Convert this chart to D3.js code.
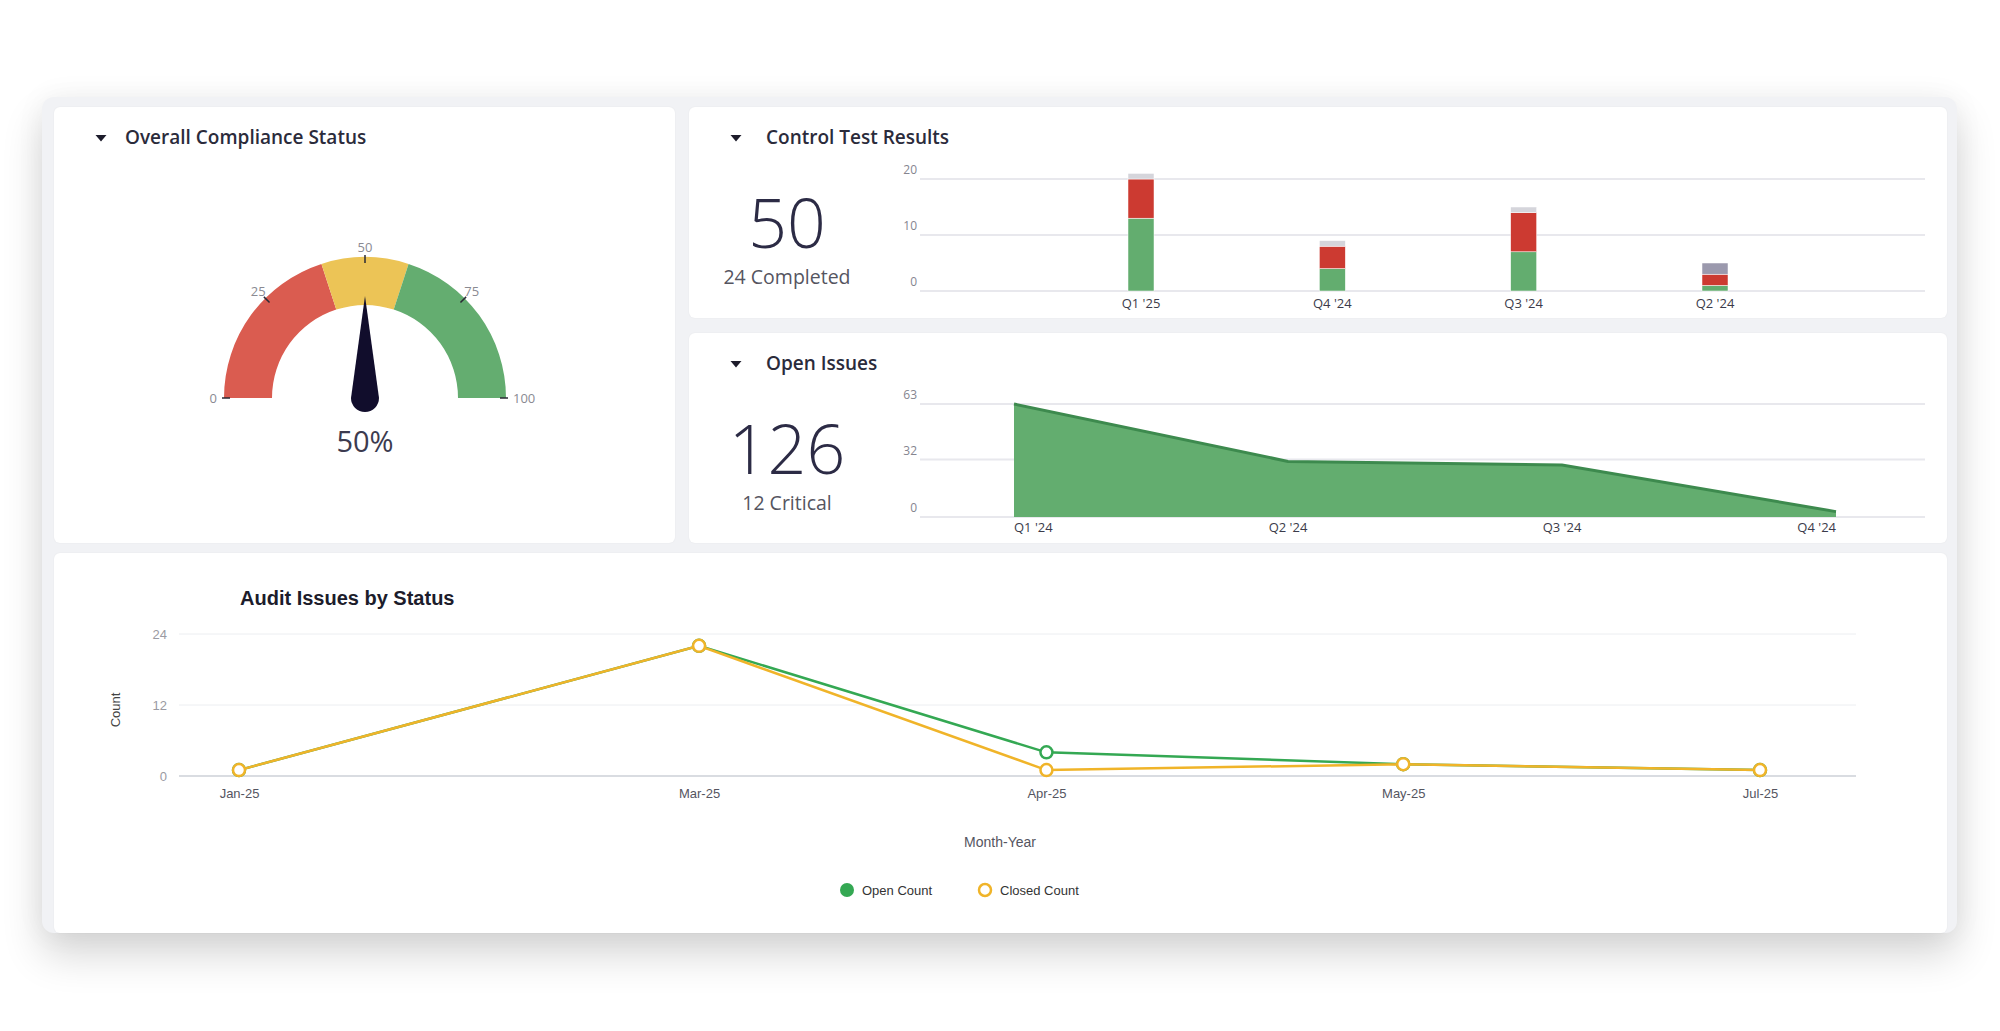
<!DOCTYPE html>
<html>
<head>
<meta charset="utf-8">
<script src="https://cdn.jsdelivr.net/npm/d3@7"></script>
<style>
    html, body { margin: 0; padding: 0; background: #fff; }
    body { width: 2000px; height: 1031px; position: relative; overflow: hidden; font-family: "Open Sans", sans-serif; }
    .frame {
        position: absolute; left: 42px; top: 97px; width: 1915px; height: 836px;
        background: #f1f2f5; border-radius: 12px;
        box-shadow: 0 22px 40px rgba(0,0,0,0.16), 0 0 30px rgba(0,0,0,0.05);
    }
    .panel { position: absolute; background: #fff; border-radius: 6px; box-shadow: 0 0 2px rgba(0,0,0,0.06); }
    .panel svg { display: block; }
</style>
</head>
<body>
<div class="frame"></div>
<div class="panel" id="gauge" style="left:54px;top:107px;width:621px;height:436px"></div>
<div class="panel" id="tests" style="left:689px;top:107px;width:1258px;height:211px"></div>
<div class="panel" id="issues" style="left:689px;top:333px;width:1258px;height:210px"></div>
<div class="panel" id="audit" style="left:54px;top:553px;width:1893px;height:380px"></div>
<script>
// gauge
const gaugeValue = 50;
const gaugeBreaks = [0, 40, 60, 100];
const gaugeColors = ['#da5c50', '#ecc456', '#64ad70'];
const gaugeTicks = [0, 25, 50, 75, 100];

// control test results
const testTotal = 50;
const testCompleted = 24;
const testQuarters = ["Q1 '25", "Q4 '24", "Q3 '24", "Q2 '24"];
const testPassed = [13, 4, 7, 1];
const testFailed = [7, 4, 7, 2];
const testBlocked = [0, 0, 0, 2];
const testNotRun = [1, 1, 1, 0];
const testTicks = [0, 10, 20];

// open issues
const issueTotal = 126;
const issueCritical = 12;
const issueQuarters = ["Q1 '24", "Q2 '24", "Q3 '24", "Q4 '24"];
const issueCounts = [63, 31, 29, 3];
const issueTicks = [0, 32, 63];

// audit issues by status
const auditLabels = ['Jan-25', 'Mar-25', 'Apr-25', 'May-25', 'Jul-25'];
const auditDates = ['2025-01-20', '2025-03-10', '2025-04-16', '2025-05-24', '2025-07-01'];
const openCount = [1, 22, 4, 2, 1];
const closedCount = [1, 22, 1, 2, 1];
const auditTicks = [0, 12, 24];

function panelSvg(id) {
    const el = document.getElementById(id);
    return d3.select(el).append('svg')
        .attr('width', el.clientWidth)
        .attr('height', el.clientHeight);
}

function header(svg, title, x) {
    svg.append('path')
        .attr('d', 'M-5.5,-3 L5.5,-3 L0,3.5 Z')
        .attr('transform', 'translate(47,31)')
        .attr('fill', '#1d1c2b');
    svg.append('text')
        .attr('x', x)
        .attr('y', 37)
        .attr('font-size', 19)
        .attr('font-weight', 600)
        .attr('fill', '#2b2b3b')
        .text(title);
}

// ---------- Gauge ----------
{
    const svg = panelSvg('gauge');
    header(svg, 'Overall Compliance Status', 71);

    const g = svg.append('g').attr('transform', 'translate(311,291)');
    const angle = d3.scaleLinear().domain([0, 100]).range([-Math.PI / 2, Math.PI / 2]);
    const arc = d3.arc().innerRadius(93).outerRadius(141);

    g.selectAll('path.band')
        .data(d3.pairs(gaugeBreaks))
        .join('path')
        .attr('class', 'band')
        .attr('fill', (d, i) => gaugeColors[i])
        .attr('d', d => arc({ startAngle: angle(d[0]), endAngle: angle(d[1]) }));

    g.selectAll('line.tick')
        .data(gaugeTicks)
        .join('line')
        .attr('x1', d => Math.sin(angle(d)) * 135)
        .attr('y1', d => -Math.cos(angle(d)) * 135)
        .attr('x2', d => Math.sin(angle(d)) * 143)
        .attr('y2', d => -Math.cos(angle(d)) * 143)
        .attr('stroke', '#2a2a35')
        .attr('stroke-width', 1.5);

    // labels sit outside the arc; the flat ends are anchored away from it
    const anchor = d => {
        const s = Math.sin(angle(d));
        return s < -0.9 ? 'end' : s > 0.9 ? 'start' : 'middle';
    };
    g.selectAll('text.tick')
        .data(gaugeTicks)
        .join('text')
        .attr('x', d => Math.sin(angle(d)) * (anchor(d) === 'middle' ? 151 : 148))
        .attr('y', d => -Math.cos(angle(d)) * 151)
        .attr('dy', '0.35em')
        .attr('text-anchor', anchor)
        .attr('font-size', 13)
        .attr('fill', '#8a8a92')
        .text(d => d);

    // needle
    g.append('path')
        .attr('d', 'M-14,0 L0,-102 L14,0 A14,14 0 0,1 -14,0 Z')
        .attr('transform', `rotate(${angle(gaugeValue) * 180 / Math.PI})`)
        .attr('fill', '#110d2c');

    svg.append('text')
        .attr('x', 311)
        .attr('y', 345)
        .attr('text-anchor', 'middle')
        .attr('font-size', 29)
        .attr('fill', '#3c3b4f')
        .text(`${gaugeValue}%`);
}

function kpi(svg, big, small) {
    svg.append('text')
        .attr('x', 98).attr('y', 141)
        .attr('text-anchor', 'middle')
        .attr('font-size', 68)
        .attr('font-weight', 300)
        .attr('fill', '#2c2b45')
        .text(big);
    svg.append('text')
        .attr('x', 98).attr('y', 177)
        .attr('text-anchor', 'middle')
        .attr('font-size', 19.5)
        .attr('fill', '#55555f')
        .text(small);
}

function grid(svg, y, ticks) {
    svg.append('g')
        .selectAll('line')
        .data(ticks)
        .join('line')
        .attr('x1', 231).attr('x2', 1236)
        .attr('y1', d => y(d)).attr('y2', d => y(d))
        .attr('stroke', '#e8e8ed')
        .attr('stroke-width', 2);
    svg.append('g')
        .selectAll('text')
        .data(ticks)
        .join('text')
        .attr('x', 228)
        .attr('y', d => y(d) - 5)
        .attr('text-anchor', 'end')
        .attr('font-size', 12)
        .attr('fill', '#85858f')
        .text(d => d);
}

// ---------- Control Test Results ----------
{
    const svg = panelSvg('tests');
    header(svg, 'Control Test Results', 77);
    kpi(svg, testTotal, `${testCompleted} Completed`);

    const y = d3.scaleLinear().domain([0, 20]).range([184, 72]);
    const x = d3.scalePoint().domain(testQuarters).range([452, 1026]);
    grid(svg, y, testTicks);

    const rows = testQuarters.map((q, i) => ({
        q, passed: testPassed[i], failed: testFailed[i], blocked: testBlocked[i], notRun: testNotRun[i]
    }));
    const keys = ['passed', 'failed', 'blocked', 'notRun'];
    const color = d3.scaleOrdinal().domain(keys).range(['#63ad6f', '#cc3a31', '#9b99ad', '#d5d5db']);
    const series = d3.stack().keys(keys)(rows);

    svg.append('g')
        .selectAll('g')
        .data(series)
        .join('g')
        .attr('fill', d => color(d.key))
        .selectAll('rect')
        .data(d => d)
        .join('rect')
        .attr('x', d => x(d.data.q) - 13)
        .attr('width', 26)
        .attr('y', d => y(d[1]))
        .attr('height', d => y(d[0]) - y(d[1]))
        .attr('stroke', '#fff')
        .attr('stroke-width', 0.5);

    svg.append('g')
        .selectAll('text')
        .data(testQuarters)
        .join('text')
        .attr('x', d => x(d))
        .attr('y', 201)
        .attr('text-anchor', 'middle')
        .attr('font-size', 13)
        .attr('fill', '#3b3b4a')
        .text(d => d);
}

// ---------- Open Issues ----------
{
    const svg = panelSvg('issues');
    header(svg, 'Open Issues', 77);
    kpi(svg, issueTotal, `${issueCritical} Critical`);

    const y = d3.scaleLinear().domain([0, 63]).range([184, 71]);
    const x = d3.scalePoint().domain(issueQuarters).range([325, 1147]);
    grid(svg, y, issueTicks);

    const data = issueQuarters.map((q, i) => ({ q, v: issueCounts[i] }));

    svg.append('path')
        .datum(data)
        .attr('fill', '#63ad6f')
        .attr('d', d3.area().x(d => x(d.q)).y0(y(0)).y1(d => y(d.v)));

    svg.append('path')
        .datum(data)
        .attr('fill', 'none')
        .attr('stroke', '#3d8a4e')
        .attr('stroke-width', 3)
        .attr('d', d3.line().x(d => x(d.q)).y(d => y(d.v)));

    const last = issueQuarters.length - 1;
    svg.append('g')
        .selectAll('text')
        .data(issueQuarters)
        .join('text')
        .attr('x', d => x(d))
        .attr('y', 199)
        .attr('text-anchor', (d, i) => i === 0 ? 'start' : i === last ? 'end' : 'middle')
        .attr('font-size', 13)
        .attr('fill', '#3b3b4a')
        .text(d => d);
}

// ---------- Audit Issues by Status ----------
{
    const svg = panelSvg('audit').attr('font-family', '"Liberation Sans", Arial, sans-serif');

    svg.append('text')
        .attr('x', 186).attr('y', 52)
        .attr('font-size', 20)
        .attr('font-weight', 700)
        .attr('fill', '#1c1c2b')
        .text('Audit Issues by Status');

    const dates = auditDates.map(d3.timeParse('%Y-%m-%d'));
    const x = d3.scaleTime().domain(d3.extent(dates)).range([185, 1706]);
    const y = d3.scaleLinear().domain([0, 24]).range([223, 81]);

    // grid + y labels
    svg.append('g')
        .selectAll('line')
        .data(auditTicks)
        .join('line')
        .attr('x1', 125).attr('x2', 1802)
        .attr('y1', d => y(d)).attr('y2', d => y(d))
        .attr('stroke', d => d === 0 ? '#ccd0d7' : '#eceef1')
        .attr('stroke-width', d => d === 0 ? 1.5 : 1);

    svg.append('g')
        .selectAll('text')
        .data(auditTicks)
        .join('text')
        .attr('x', 113)
        .attr('y', d => y(d))
        .attr('dy', '0.35em')
        .attr('text-anchor', 'end')
        .attr('font-size', 13)
        .attr('fill', '#9a9aa2')
        .text(d => d);

    // x labels, one per data point
    const xAxis = d3.axisBottom(x)
        .tickValues(dates)
        .tickFormat((d, i) => auditLabels[i])
        .tickSize(0)
        .tickPadding(0);
    svg.append('g')
        .attr('transform', 'translate(0,236)')
        .call(xAxis)
        .call(g => g.select('.domain').remove())
        .call(g => g.selectAll('text')
            .attr('font-size', 13)
            .attr('font-family', '"Liberation Sans", Arial, sans-serif')
            .attr('fill', '#55555f'));

    svg.append('text')
        .attr('transform', 'translate(66,157) rotate(-90)')
        .attr('text-anchor', 'middle')
        .attr('font-size', 13)
        .attr('fill', '#444')
        .text('Count');

    svg.append('text')
        .attr('x', 946).attr('y', 294)
        .attr('text-anchor', 'middle')
        .attr('font-size', 14)
        .attr('fill', '#55555f')
        .text('Month-Year');

    const series = [
        { name: 'Open Count', color: '#34a853', values: openCount },
        { name: 'Closed Count', color: '#f0b429', values: closedCount }
    ];
    const line = d3.line().x(d => x(d.date)).y(d => y(d.v));

    series.forEach(s => {
        const pts = dates.map((date, i) => ({ date, v: s.values[i] }));
        svg.append('path')
            .datum(pts)
            .attr('fill', 'none')
            .attr('stroke', s.color)
            .attr('stroke-width', 2.5)
            .attr('d', line);
        svg.append('g')
            .selectAll('circle')
            .data(pts)
            .join('circle')
            .attr('cx', d => x(d.date))
            .attr('cy', d => y(d.v))
            .attr('r', 6)
            .attr('fill', '#fff')
            .attr('stroke', s.color)
            .attr('stroke-width', 2.5);
    });

    // legend
    const legend = svg.append('g')
        .selectAll('g')
        .data(series)
        .join('g')
        .attr('transform', (d, i) => `translate(${793 + i * 138},337)`);
    legend.append('circle')
        .attr('r', (d, i) => i === 0 ? 7 : 6)
        .attr('fill', (d, i) => i === 0 ? d.color : '#fff')
        .attr('stroke', d => d.color)
        .attr('stroke-width', (d, i) => i === 0 ? 0 : 2.5);
    legend.append('text')
        .attr('x', 15)
        .attr('dy', '0.35em')
        .attr('font-size', 13)
        .attr('fill', '#333')
        .text(d => d.name);
}
</script>
</body>
</html>
